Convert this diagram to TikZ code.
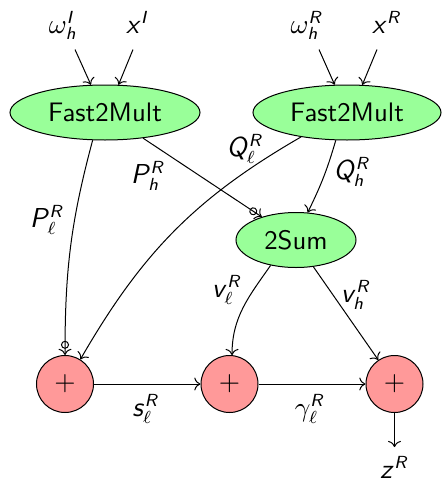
\documentclass[tikz,border=0pt]{standalone}
\usetikzlibrary{shapes.geometric,arrows.meta}
\renewcommand{\familydefault}{\sfdefault}
\DeclareSymbolFont{sfitletters}{OT1}{cmss}{m}{sl}
\DeclareMathSymbol{P}{\mathalpha}{sfitletters}{`P}
\DeclareMathSymbol{Q}{\mathalpha}{sfitletters}{`Q}
\DeclareMathSymbol{R}{\mathalpha}{sfitletters}{`R}
\DeclareMathSymbol{I}{\mathalpha}{sfitletters}{`I}
\DeclareMathSymbol{h}{\mathalpha}{sfitletters}{`h}
\DeclareMathSymbol{x}{\mathalpha}{sfitletters}{`x}
\DeclareMathSymbol{v}{\mathalpha}{sfitletters}{`v}
\DeclareMathSymbol{s}{\mathalpha}{sfitletters}{`s}
\DeclareMathSymbol{z}{\mathalpha}{sfitletters}{`z}
\begin{document}
\begin{tikzpicture}[x=0.4pt,y=-0.4pt,
  font=\fontsize{10.7}{13}\selectfont,
  op/.style={ellipse, draw, fill=green!40, minimum height=22pt, inner sep=0pt},
  addc/.style={circle, draw, fill=red!40, minimum size=22.8pt, inner sep=0pt},
  inlab/.style={anchor=base, inner sep=0pt, text depth=6.4pt},
  lab/.style={inner sep=0pt},
  neg/.style={-{Circle[open,length=3.2pt] >}}]
\useasboundingbox (0,0) rectangle (442,480);

\node[op, minimum width=76pt] (F1) at (105,112.5) {Fast2Mult};
\node[op, minimum width=75.2pt] (F2) at (347,112.5) {Fast2Mult};
\node[op, minimum width=48pt] (S) at (296,240) {2Sum};
\node[addc] (A1) at (65,384) {$+$};
\node[addc] (A2) at (229.5,384) {$+$};
\node[addc] (A3) at (394.5,384) {$+$};

\node[inlab] (wI) at (63,33) {$\omega_h^I$};
\node[inlab] (xI) at (138,33) {$x^I$};
\node[inlab] (wR) at (307,33) {$\omega_h^R$};
\node[inlab] (xR) at (387,33) {$x^R$};
\node (zR) at (394.5,467) {$z^R$};

\draw[->] ([xshift=4.8pt]wI.south) -- (F1.117);
\draw[->] ([xshift=-2pt]xI.south) -- (F1.64);
\draw[->] ([xshift=4.8pt]wR.south) -- (F2.114);
\draw[->] ([xshift=-4pt]xR.south) -- (F2.61);

\draw[neg] (F1.-114) to[out=-105,in=90] (A1.north);
\draw[neg] (F1.-34) -- (S.146);
\draw[->] (F2.-152) to[out=-150,in=60] (A1.58);
\draw[->] (F2.-112) to[bend left=5] (S.67);
\draw[->] (S.-135) to[out=-125,in=90] (A2.85);
\draw[->] (S.-57) -- (A3.124);
\draw[->] (A1) -- (A2);
\draw[->] (A2) -- (A3);
\draw[->] (A3) -- (A3 |- zR.north);

\node[lab] (lPl) at (47,220) {$P_\ell^R$};
\node[lab] (lPh) at (148,176) {$P_h^R$};
\node[lab] (lQl) at (245,149) {$Q_\ell^R$};
\node[lab] (lQh) at (352,172) {$Q_h^R$};
\node[lab] (lvl) at (227,290) {$v_\ell^R$};
\node[lab] (lvh) at (356,295) {$v_h^R$};
\node[lab] (lsl) at (146,409) {$s_\ell^R$};
\node[lab] (lgl) at (310,409) {$\gamma_\ell^R$};
\end{tikzpicture}
\end{document}
